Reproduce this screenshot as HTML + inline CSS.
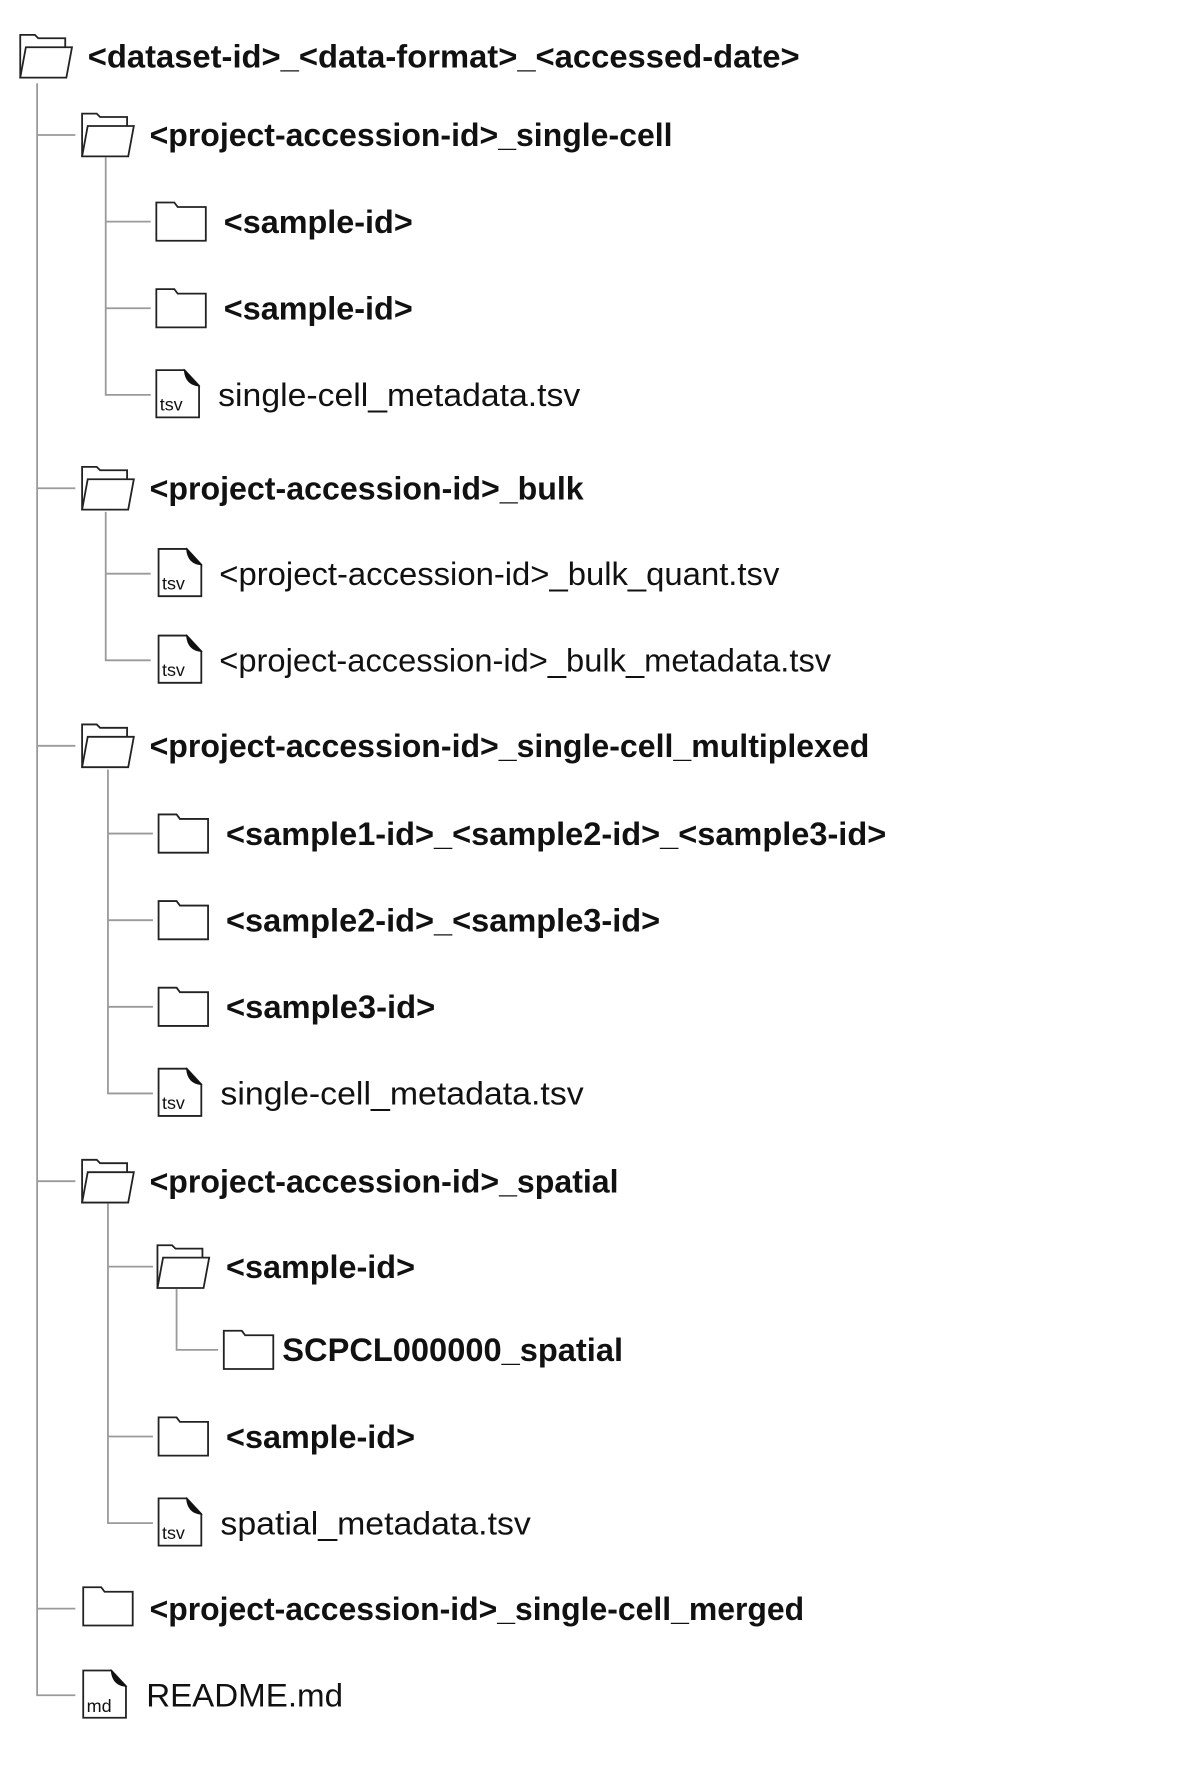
<!DOCTYPE html>
<html><head><meta charset="utf-8"><style>
html,body{margin:0;padding:0;background:#fff;}
svg{display:block;}
.b{font-family:"Liberation Sans",sans-serif;font-weight:bold;font-size:28.5px;fill:#111;}
.r{font-family:"Liberation Sans",sans-serif;font-size:28.5px;fill:#111;}
.t{font-family:"Liberation Sans",sans-serif;font-size:16px;fill:#111;}
.ln{stroke:#9a9a9a;stroke-width:1.6;fill:none;}
</style></head><body>
<svg width="1200" height="1765" viewBox="0 0 1067 1569" preserveAspectRatio="none" xmlns="http://www.w3.org/2000/svg">
<defs>
<symbol id="of" viewBox="0 0 48 40" width="48" height="40" overflow="visible">
 <path d="M1,39 V1 H14 L17,4 H41 V12" fill="#fff" stroke="#222" stroke-width="1.6"/>
 <path d="M6,12 H47 L42,39 H1 Z" fill="#fff" stroke="#222" stroke-width="1.6"/>
</symbol>
<symbol id="cf" viewBox="0 0 46 36" width="46" height="36" overflow="visible">
 <path d="M1,1 H17 L20,5 H45 V35 H1 Z" fill="#fff" stroke="#222" stroke-width="1.6"/>
</symbol>
<symbol id="fi" viewBox="0 0 40 44" width="40" height="44" overflow="visible">
 <path d="M1,1 H26 L39,15 V43 H1 Z" fill="#fff" stroke="#222" stroke-width="1.6"/>
 <path d="M26,1 Q27,14 39,15 L39,15 Z" fill="#111" stroke="#111" stroke-width="1"/>
</symbol>
</defs>

<path class="ln" d="M33,74 V1507 H67"/>
<path class="ln" d="M33,120 H67 M33,434 H67 M33,663 H67 M33,1050 H67 M33,1430 H67"/>
<path class="ln" d="M94,140 V351 H134 M94,197 H134 M94,274 H134"/>
<path class="ln" d="M94,455 V587 H134 M94,510 H134"/>
<path class="ln" d="M96,684 V972 H136 M96,741 H136 M96,818 H136 M96,895 H136"/>
<path class="ln" d="M96,1070 V1354 H136 M96,1126 H136 M96,1277 H136"/>
<path class="ln" d="M157,1146 V1200 H194"/>

<use href="#of" x="17" y="30"/>
<text class="b" x="78" y="60" textLength="633" lengthAdjust="spacingAndGlyphs">&lt;dataset-id&gt;_&lt;data-format&gt;_&lt;accessed-date&gt;</text>

<use href="#of" x="72" y="100"/>
<text class="b" x="133" y="130" textLength="465" lengthAdjust="spacingAndGlyphs">&lt;project-accession-id&gt;_single-cell</text>
<use href="#cf" x="138" y="179"/>
<text class="b" x="199" y="207" textLength="168" lengthAdjust="spacingAndGlyphs">&lt;sample-id&gt;</text>
<use href="#cf" x="138" y="256"/>
<text class="b" x="199" y="284" textLength="168" lengthAdjust="spacingAndGlyphs">&lt;sample-id&gt;</text>
<use href="#fi" x="138" y="328"/>
<text class="t" x="142" y="365">tsv</text>
<text class="r" x="194" y="361" textLength="322" lengthAdjust="spacingAndGlyphs">single-cell_metadata.tsv</text>

<use href="#of" x="72" y="414"/>
<text class="b" x="133" y="444" textLength="386" lengthAdjust="spacingAndGlyphs">&lt;project-accession-id&gt;_bulk</text>
<use href="#fi" x="140" y="487"/>
<text class="t" x="144" y="524">tsv</text>
<text class="r" x="195" y="520" textLength="498" lengthAdjust="spacingAndGlyphs">&lt;project-accession-id&gt;_bulk_quant.tsv</text>
<use href="#fi" x="140" y="564"/>
<text class="t" x="144" y="601">tsv</text>
<text class="r" x="195" y="597" textLength="544" lengthAdjust="spacingAndGlyphs">&lt;project-accession-id&gt;_bulk_metadata.tsv</text>

<use href="#of" x="72" y="643"/>
<text class="b" x="133" y="673" textLength="640" lengthAdjust="spacingAndGlyphs">&lt;project-accession-id&gt;_single-cell_multiplexed</text>
<use href="#cf" x="140" y="723"/>
<text class="b" x="201" y="751" textLength="587" lengthAdjust="spacingAndGlyphs">&lt;sample1-id&gt;_&lt;sample2-id&gt;_&lt;sample3-id&gt;</text>
<use href="#cf" x="140" y="800"/>
<text class="b" x="201" y="828" textLength="386" lengthAdjust="spacingAndGlyphs">&lt;sample2-id&gt;_&lt;sample3-id&gt;</text>
<use href="#cf" x="140" y="877"/>
<text class="b" x="201" y="905" textLength="186" lengthAdjust="spacingAndGlyphs">&lt;sample3-id&gt;</text>
<use href="#fi" x="140" y="949"/>
<text class="t" x="144" y="986">tsv</text>
<text class="r" x="196" y="982" textLength="323" lengthAdjust="spacingAndGlyphs">single-cell_metadata.tsv</text>

<use href="#of" x="72" y="1030"/>
<text class="b" x="133" y="1060" textLength="417" lengthAdjust="spacingAndGlyphs">&lt;project-accession-id&gt;_spatial</text>
<use href="#of" x="139" y="1106"/>
<text class="b" x="201" y="1136" textLength="168" lengthAdjust="spacingAndGlyphs">&lt;sample-id&gt;</text>
<use href="#cf" x="198" y="1182"/>
<text class="b" x="251" y="1210" textLength="303" lengthAdjust="spacingAndGlyphs">SCPCL000000_spatial</text>
<use href="#cf" x="140" y="1259"/>
<text class="b" x="201" y="1287" textLength="168" lengthAdjust="spacingAndGlyphs">&lt;sample-id&gt;</text>
<use href="#fi" x="140" y="1331"/>
<text class="t" x="144" y="1368">tsv</text>
<text class="r" x="196" y="1364" textLength="276" lengthAdjust="spacingAndGlyphs">spatial_metadata.tsv</text>

<use href="#cf" x="73" y="1410"/>
<text class="b" x="133" y="1440" textLength="582" lengthAdjust="spacingAndGlyphs">&lt;project-accession-id&gt;_single-cell_merged</text>

<use href="#fi" x="73" y="1484"/>
<text class="t" x="77" y="1522">md</text>
<text class="r" x="130" y="1517" textLength="175" lengthAdjust="spacingAndGlyphs">README.md</text>
</svg>
</body></html>
